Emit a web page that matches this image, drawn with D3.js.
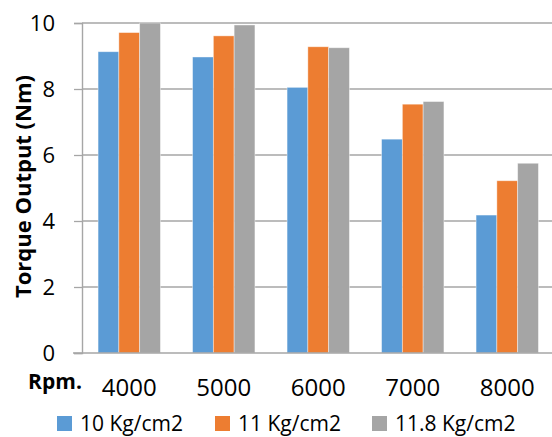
<!DOCTYPE html>
<html>
<head>
<meta charset="utf-8">
<script src="https://cdn.jsdelivr.net/npm/d3@7"></script>
<style>
  html, body { margin: 0; padding: 0; background: #fff; }
  svg { display: block; }
  text { font-family: "Open Sans", sans-serif; fill: #000; }
</style>
</head>
<body>
<svg id="chart" width="552" height="437"></svg>
<script>
const categories = ["4000", "5000", "6000", "7000", "8000"];
const seriesNames = ["10 Kg/cm2", "11 Kg/cm2", "11.8 Kg/cm2"];
const s10 = [9.13, 8.97, 8.05, 6.48, 4.18];
const s11 = [9.71, 9.61, 9.28, 7.54, 5.22];
const s118 = [10.0, 9.94, 9.25, 7.62, 5.75];
const yTicks = [0, 2, 4, 6, 8, 10];
const colors = ["#5B9BD5", "#ED7D31", "#A5A5A5"];

const seriesValues = [s10, s11, s118];

const svg = d3.select("#chart");
const W = 552, H = 437;
const plot = { left: 82, right: 554.5, top: 23, bottom: 353 };

const x0 = d3.scaleBand().domain(categories).range([plot.left, plot.right])
  .paddingInner(0.34).paddingOuter(0.17);
const x1 = d3.scaleBand().domain(seriesNames).range([0, x0.bandwidth()]).padding(0);
const y = d3.scaleLinear().domain([0, 10]).range([plot.bottom, plot.top]);
const color = d3.scaleOrdinal().domain(seriesNames).range(colors);

// gridlines + y axis
const yAxis = d3.axisLeft(y).tickValues(yTicks).tickSize(8).tickFormat(d3.format("d")).tickPadding(19);
const gy = svg.append("g").attr("transform", `translate(${plot.left},0)`).call(yAxis);
gy.select(".domain").attr("stroke", "#A6A6A6").attr("stroke-width", 1.4);
gy.selectAll(".tick line").attr("stroke", "#A6A6A6").attr("stroke-width", 1.3);
gy.selectAll(".tick text").style("font-size", "22px").style("font-family", "'Open Sans', sans-serif").attr("fill", "#000");

svg.append("g").selectAll("line.grid").data(yTicks.filter(d => d > 0)).join("line")
  .attr("class", "grid")
  .attr("x1", plot.left).attr("x2", W)
  .attr("y1", d => y(d)).attr("y2", d => y(d))
  .attr("stroke", "#A6A6A6").attr("stroke-width", 1.3);

// bars
const groups = svg.append("g").selectAll("g").data(categories).join("g")
  .attr("transform", d => `translate(${x0(d)},0)`);
groups.selectAll("rect").data((c, i) => seriesNames.map((s, j) => ({ s, v: seriesValues[j][i] })))
  .join("rect")
  .attr("x", d => x1(d.s))
  .attr("y", d => y(d.v))
  .attr("width", x1.bandwidth())
  .attr("height", d => y(0) - y(d.v))
  .attr("fill", d => color(d.s))
  .attr("stroke", "#ffffff").attr("stroke-opacity", 0.5).attr("stroke-width", 0.8);

// x axis baseline
const xAxis = d3.axisBottom(x0).tickSize(0).tickPadding(26);
const gx = svg.append("g").attr("transform", `translate(0,${plot.bottom})`).call(xAxis);
gx.select(".domain").remove();
gx.selectAll(".tick text").style("font-size", "24px").style("font-family", "'Open Sans', sans-serif").attr("fill", "#000");
svg.append("line").attr("x1", 73).attr("x2", W).attr("y1", y(0)).attr("y2", y(0))
  .attr("stroke", "#A6A6A6").attr("stroke-width", 1.3);

// axis titles
svg.append("text").attr("x", 55).attr("y", 389).attr("text-anchor", "middle")
  .style("font-size", "21px").style("font-weight", "bold").text("Rpm.");
svg.append("text")
  .attr("transform", `translate(31,${(73 + 300) / 2}) rotate(-90)`)
  .attr("text-anchor", "middle")
  .style("font-size", "22px").style("font-weight", "bold").text("Torque Output (Nm)");

// legend
const legendX = [57, 215, 372];
const leg = svg.append("g").selectAll("g").data(seriesNames).join("g")
  .attr("transform", (d, i) => `translate(${legendX[i]},0)`);
leg.append("rect").attr("x", 0).attr("y", 416).attr("width", 15).attr("height", 15)
  .attr("fill", d => color(d));
leg.append("text").attr("x", 23).attr("y", 430.5).style("font-size", "21px").text(d => d);
</script>
</body>
</html>
